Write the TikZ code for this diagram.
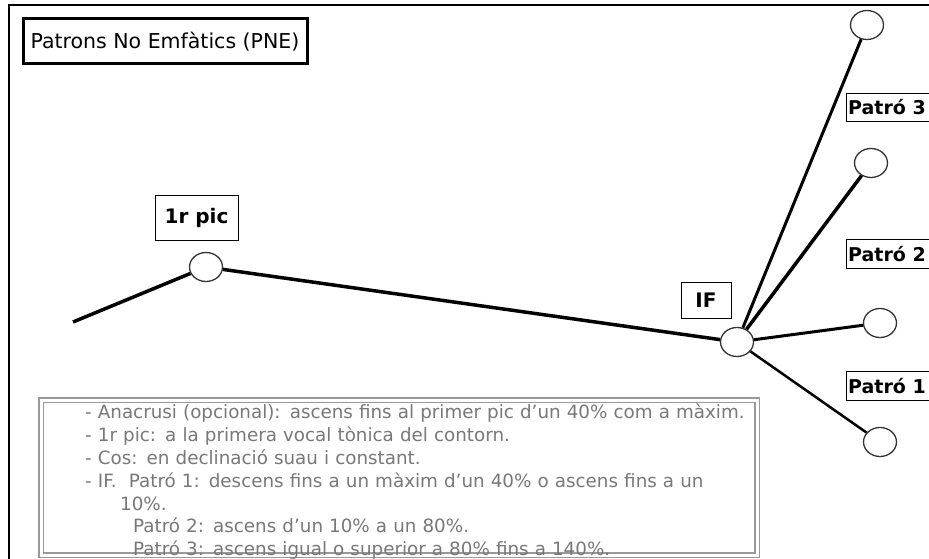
\documentclass[tikz,border=0pt]{standalone}
\usepackage{fontspec}
\setmainfont{DejaVu Sans}
\usetikzlibrary{shapes.geometric}
\definecolor{textgris}{HTML}{787878}
\definecolor{marcgris}{HTML}{999999}

\begin{document}
\begin{tikzpicture}[x=1pt, y=-1pt,
    punt/.style={ellipse, draw=black!80, line width=1.3pt, fill=white,
        minimum width=33pt, minimum height=29pt, inner sep=0pt},
    contorn/.style={line width=3.5pt},
    etiqueta/.style={draw, line width=1pt, inner sep=3pt,
        font=\fontsize{20}{24}\selectfont\bfseries}]
    \def\patro#1#2{
        \node[anchor=west, inner xsep=2pt, minimum height=28pt,
            font=\fontsize{19}{24}\selectfont\bfseries] (lp#1) at (846,#2) {Patró #1};
        \draw[line width=1pt] ([xshift=8pt]lp#1.north east) -| (lp#1.south west)
            -- ([xshift=8pt]lp#1.south east);
    }
    \useasboundingbox (0,0) rectangle (929,559);
    \clip (0,0) rectangle (929,559);
    \fill[white] (0,0) rectangle (929,559);

    % Marc exterior
    \draw[line width=1.5pt] (929,5) -- (9,5) -- (9,559);

    \node[draw, line width=3pt, minimum width=284pt, minimum height=45pt,
        font=\fontsize{20.5}{24}\selectfont] (titol) at (165,41.5) {Patrons No Emfàtics (PNE)};

    % Punts del contorn
    \coordinate (inici) at (73,322);
    \node[punt] (pic) at (206,267) {};
    \node[punt] (if) at (737,342) {};
    \node[punt] (p3) at (867,25) {};
    \node[punt] (p2) at (871,163) {};
    \node[punt] (p1a) at (880,323) {};
    \node[punt] (p1b) at (880,442) {};

    \draw[contorn] (inici) -- (pic) -- (if);
    \draw[line width=3pt] (if) -- (p3);
    \draw[line width=3.5pt] (if) -- (p2);
    \draw[line width=3pt] (if) -- (p1a);
    \draw[line width=2.5pt] (if) -- (p1b);

    % Etiquetes
    \node[etiqueta, minimum width=83pt, minimum height=45pt] (lpic) at (196.5,217.5) {1r pic};
    \node[etiqueta, minimum width=50pt, minimum height=36pt] (lif) at (706,300) {IF};
    \patro{3}{107.5}
    \patro{2}{254}
    \patro{1}{386}

    % Notes
    \node[draw=marcgris, line width=1.5pt, double=white, double distance=3pt,
        minimum width=716pt, minimum height=155pt] (notes) at (399,477.5) {};
    \node[anchor=north west, inner sep=0pt, text width=668pt, align=left, text=textgris,
        font=\fontsize{18.3}{22.8}\selectfont] (notestext) at (85,404) {%
        - Anacrusi (opcional): ascens fins al primer pic d’un 40\% com a màxim.\newline
        - 1r pic: a la primera vocal tònica del contorn.\newline
        - Cos: en declinació suau i constant.\newline
        - IF.\ \ Patró 1: descens fins a un màxim d’un 40\% o ascens fins a un\newline
        \hspace*{35pt}10\%.\newline
        \hspace*{48pt}Patró 2: ascens d’un 10\% a un 80\%.\newline
        \hspace*{48pt}Patró 3: ascens igual o superior a 80\% fins a 140\%.};
\end{tikzpicture}
\end{document}
